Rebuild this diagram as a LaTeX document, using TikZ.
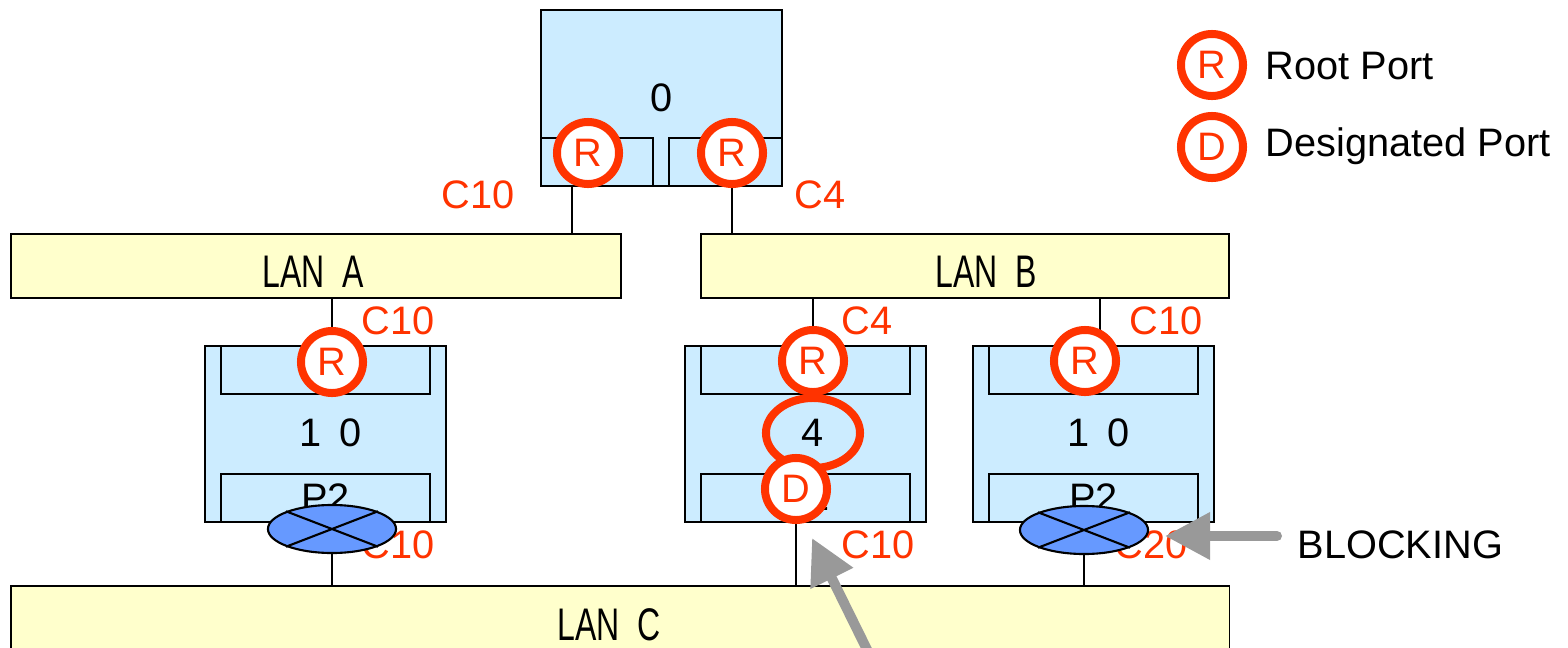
\documentclass[tikz,border=0pt]{standalone}
\usepackage{fontspec}
\setmainfont{Liberation Sans}
\newfontfamily\lanfont[FakeStretch=0.7]{Liberation Sans}
\usetikzlibrary{arrows.meta,positioning,calc,shapes.geometric}
\definecolor{pt}{HTML}{FF3300}
\definecolor{br}{HTML}{CCECFF}
\definecolor{ln}{HTML}{FFFFCC}
\definecolor{bk}{HTML}{6699FF}
\definecolor{ar}{HTML}{999999}
\newcommand{\Dg}{\fontsize{11.3}{13}\selectfont}
\tikzset{
  bridge/.style={draw, fill=br, line width=0.5pt, minimum width=2.41cm, minimum height=1.76cm, anchor=north west, inner sep=0pt},
  portbox/.style={draw, fill=br, line width=0.5pt, minimum width=2.09cm, minimum height=0.48cm, anchor=north west, inner sep=0pt},
  lan/.style={draw, fill=ln, line width=0.5pt, minimum height=0.64cm, anchor=north west, inner sep=0pt},
  lantext/.style={font=\lanfont\fontsize{13}{15}\selectfont, inner sep=0pt},
  role/.style={circle, draw=pt, line width=0.08cm, fill=white, minimum size=0.62cm, inner sep=0pt, text=pt, font=\Dg},
  ring/.style={ellipse, draw=pt, line width=0.08cm, minimum width=0.94cm, minimum height=0.70cm, inner sep=0pt, font=\Dg},
  cost/.style={text=pt, font=\Dg, inner sep=0pt},
  blk/.style={ellipse, draw, fill=bk, line width=0.6pt, minimum width=1.28cm, minimum height=0.48cm, inner sep=0pt},
  pointer/.style={draw=ar, line width=0.1cm, line cap=round, -{Triangle[length=0.45cm, width=0.45cm]}},
  wire/.style={draw, line width=0.5pt}
}
\begin{document}
\begin{tikzpicture}[x=0.01cm, y=-0.01cm, font=\Dg]
  \path[use as bounding box, clip] (0,0) rectangle (1568,648);
  % LAN segments
  \node[lan, minimum width=6.1cm] (lanA) at (10,233) {};
  \node[lan, minimum width=5.28cm] (lanB) at (700,233) {};
  \node[lan, minimum width=12.18cm, minimum height=1cm] (lanC) at (10,585) {};
  \node[lantext] (lanAtxt) at (313,272) {LAN\ \ A};
  \node[lantext] (lanBtxt) at (986,272) {LAN\ \ B};
  \node[lantext] (lanCtxt) at (609,625) {LAN\ \ C};

  % root bridge
  \node[bridge] (root) at (540,9) {0};
  \node[portbox, minimum width=1.12cm] (rootP1) at (540,137) {};
  \node[portbox, minimum width=1.13cm] (rootP2) at (668,137) {};
  \coordinate (rootL) at (572,185);
  \coordinate (rootR) at (732,185);
  \draw[wire] (rootL) -- (rootL |- lanA.north);
  \draw[wire] (rootR) -- (rootR |- lanB.north);

  % bridges
  \node[bridge] (brA) at (204,345) {};
  \node[portbox] (brAtop) at (220,345) {};
  \node[portbox] (brAbot) at (220,473) {P2};
  \node (brAtxt) at (331,433) {1\hspace{0.45em}0};
  \node[bridge] (brB) at (684,345) {};
  \node[portbox] (brBtop) at (700,345) {};
  \node[portbox] (brBbot) at (700,473) {};
  \node (brBport) at (805,497) {P2};
  \node[bridge] (brC) at (972,345) {};
  \node[portbox] (brCtop) at (988,345) {};
  \node[portbox] (brCbot) at (988,473) {P2};
  \node (brCtxt) at (1099,433) {1\hspace{0.45em}0};

  % links to the LANs
  \coordinate (brAin) at (332,345);
  \coordinate (brBin) at (813,345);
  \coordinate (brBout) at (796,521);
  \coordinate (brCin) at (1100,345);
  \draw[wire] (brAin) -- (brAin |- lanA.south);
  \draw[wire] (brBin) -- (brBin |- lanB.south);
  \draw[wire] (brBout) -- (brBout |- lanC.north);
  \draw[wire] (brCin) -- (brCin |- lanB.south);

  % path costs
  \node[cost] (cRootA) at (478,195) {C10};
  \node[cost] (cRootB) at (820,195) {C4};
  \node[cost] (cAtop) at (398,321) {C10};
  \node[cost] (cAbot) at (398,545) {C10};
  \node[cost] (cBtop) at (867,321) {C4};
  \node[cost] (cBbot) at (878,545) {C10};
  \node[cost] (cCtop) at (1166,321) {C10};
  \node[cost] (cCbot) at (1151,545) {C20};

  % blocked ports
  \node[blk] (blkA) at (332,529) {};
  \draw[line width=0.6pt] (blkA.north west) -- (blkA.south east) (blkA.north east) -- (blkA.south west);
  \node[blk] (blkC) at (1084,530) {};
  \draw[line width=0.6pt] (blkC.north west) -- (blkC.south east) (blkC.north east) -- (blkC.south west);
  \draw[wire] (blkA.south) -- (blkA.south |- lanC.north);
  \draw[wire] (blkC.south) -- (blkC.south |- lanC.north);

  % port roles
  \node[role] (rootR1) at (588,153) {R};
  \node[role] (rootR2) at (732,153) {R};
  \node[role] (brAR) at (332,362) {R};
  \node[ring] (brBring) at (813,433) {4};
  \node[role] (brBR) at (813,361) {R};
  \node[role] (brBD) at (796,489) {D};
  \node[role] (brCR) at (1085,361) {R};

  % legend
  \node[role] (keyR) at (1212,65) {R};
  \node[anchor=west, inner sep=0pt] (keyRtxt) at (1265,66) {Root Port};
  \node[role] (keyD) at (1212,147) {D};
  \node[anchor=west, inner sep=0pt] (keyDtxt) at (1265,146) {Designated Port};

  % pointers
  \node[anchor=west, inner sep=0pt] (blocking) at (1297,545) {BLOCKING};
  \coordinate (blkTail) at (1277,536);
  \coordinate (blkTip) at (1165,536);
  \draw[pointer] (blkTail) -- (blkTip);
  \coordinate (dTail) at (882,680);
  \coordinate (dTip) at (812,538);
  \draw[pointer] (dTail) -- (dTip);
\end{tikzpicture}
\end{document}
